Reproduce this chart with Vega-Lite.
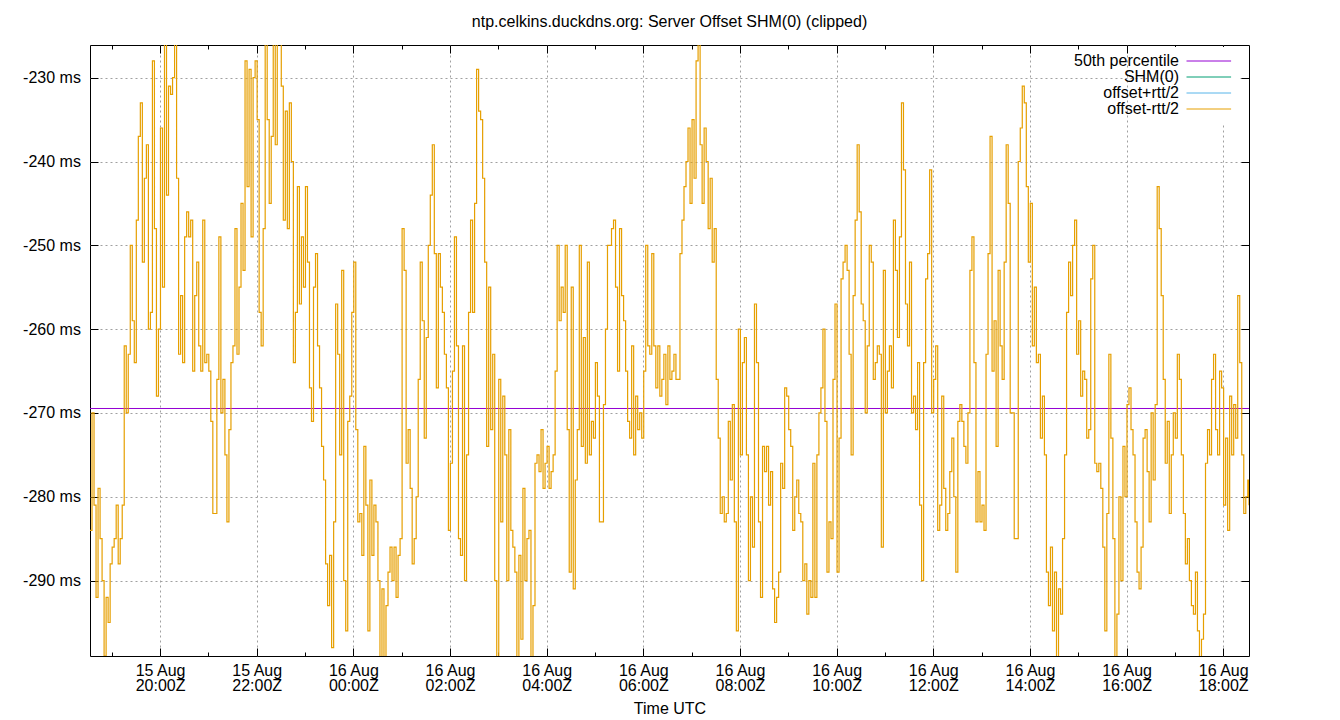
{
  "$schema": "https://vega.github.io/schema/vega-lite/v6.json",
  "width": 1159,
  "height": 611,
  "autosize": "none",
  "padding": {"left": 90, "top": 45, "right": 91, "bottom": 64},
  "title": {
    "text": "ntp.celkins.duckdns.org: Server Offset SHM(0) (clipped)",
    "fontSize": 16,
    "fontWeight": "normal",
    "color": "black",
    "baseline": "alphabetic",
    "offset": 2
  },
  "config": {
    "font": "Liberation Sans",
    "view": {"stroke": "black", "strokeWidth": 1},
    "axis": {
      "domain": false,
      "labelFontSize": 16,
      "labelColor": "black",
      "tickColor": "black",
      "tickWidth": 1,
      "gridColor": "#a0a0a0",
      "gridDash": [2, 3],
      "gridWidth": 1,
      "titleFontSize": 16,
      "titleFontWeight": "normal",
      "titleColor": "black"
    }
  },
  "datasets": {
    "offset": [
      {"t":"2024-08-15T18:33:00Z","v":-284},{"t":"2024-08-15T18:35:30Z","v":-270},
      {"t":"2024-08-15T18:38:00Z","v":-281},{"t":"2024-08-15T18:40:30Z","v":-292},
      {"t":"2024-08-15T18:43:00Z","v":-279},{"t":"2024-08-15T18:45:30Z","v":-285},
      {"t":"2024-08-15T18:48:00Z","v":-290},{"t":"2024-08-15T18:50:30Z","v":-299},
      {"t":"2024-08-15T18:53:00Z","v":-292},{"t":"2024-08-15T18:55:30Z","v":-295},
      {"t":"2024-08-15T18:58:00Z","v":-288},{"t":"2024-08-15T19:00:30Z","v":-286},
      {"t":"2024-08-15T19:03:00Z","v":-285},{"t":"2024-08-15T19:05:30Z","v":-281},
      {"t":"2024-08-15T19:08:00Z","v":-288},{"t":"2024-08-15T19:10:30Z","v":-285},
      {"t":"2024-08-15T19:13:00Z","v":-281},{"t":"2024-08-15T19:15:30Z","v":-262},
      {"t":"2024-08-15T19:18:00Z","v":-270},{"t":"2024-08-15T19:20:30Z","v":-263},
      {"t":"2024-08-15T19:23:00Z","v":-250},{"t":"2024-08-15T19:25:30Z","v":-259},
      {"t":"2024-08-15T19:28:00Z","v":-264},{"t":"2024-08-15T19:30:30Z","v":-247},
      {"t":"2024-08-15T19:33:00Z","v":-237},{"t":"2024-08-15T19:35:30Z","v":-233},
      {"t":"2024-08-15T19:38:00Z","v":-252},{"t":"2024-08-15T19:40:30Z","v":-242},
      {"t":"2024-08-15T19:43:00Z","v":-238},{"t":"2024-08-15T19:45:30Z","v":-260},
      {"t":"2024-08-15T19:48:00Z","v":-258},{"t":"2024-08-15T19:50:30Z","v":-228},
      {"t":"2024-08-15T19:53:00Z","v":-248},{"t":"2024-08-15T19:55:30Z","v":-268},
      {"t":"2024-08-15T19:58:00Z","v":-260},{"t":"2024-08-15T20:00:30Z","v":-236},
      {"t":"2024-08-15T20:03:00Z","v":-255},{"t":"2024-08-15T20:05:30Z","v":-224},
      {"t":"2024-08-15T20:08:00Z","v":-244},{"t":"2024-08-15T20:10:30Z","v":-231},
      {"t":"2024-08-15T20:13:00Z","v":-232},{"t":"2024-08-15T20:15:30Z","v":-230},
      {"t":"2024-08-15T20:18:00Z","v":-226},{"t":"2024-08-15T20:20:30Z","v":-242},
      {"t":"2024-08-15T20:23:00Z","v":-263},{"t":"2024-08-15T20:25:30Z","v":-256},
      {"t":"2024-08-15T20:28:00Z","v":-264},{"t":"2024-08-15T20:30:30Z","v":-249},
      {"t":"2024-08-15T20:33:00Z","v":-246},{"t":"2024-08-15T20:35:30Z","v":-249},
      {"t":"2024-08-15T20:38:00Z","v":-247},{"t":"2024-08-15T20:40:30Z","v":-265},
      {"t":"2024-08-15T20:43:00Z","v":-256},{"t":"2024-08-15T20:45:30Z","v":-252},
      {"t":"2024-08-15T20:48:00Z","v":-262},{"t":"2024-08-15T20:50:30Z","v":-265},
      {"t":"2024-08-15T20:53:00Z","v":-247},{"t":"2024-08-15T20:55:30Z","v":-264},
      {"t":"2024-08-15T20:58:00Z","v":-263},{"t":"2024-08-15T21:00:30Z","v":-265},
      {"t":"2024-08-15T21:03:00Z","v":-271},{"t":"2024-08-15T21:05:30Z","v":-282},
      {"t":"2024-08-15T21:08:00Z","v":-282},{"t":"2024-08-15T21:10:30Z","v":-266},
      {"t":"2024-08-15T21:13:00Z","v":-249},{"t":"2024-08-15T21:15:30Z","v":-270},
      {"t":"2024-08-15T21:18:00Z","v":-266},{"t":"2024-08-15T21:20:30Z","v":-275},
      {"t":"2024-08-15T21:23:00Z","v":-283},{"t":"2024-08-15T21:25:30Z","v":-272},
      {"t":"2024-08-15T21:28:00Z","v":-264},{"t":"2024-08-15T21:30:30Z","v":-262},
      {"t":"2024-08-15T21:33:00Z","v":-248},{"t":"2024-08-15T21:35:30Z","v":-263},
      {"t":"2024-08-15T21:38:00Z","v":-255},{"t":"2024-08-15T21:40:30Z","v":-245},
      {"t":"2024-08-15T21:43:00Z","v":-253},{"t":"2024-08-15T21:45:30Z","v":-228},
      {"t":"2024-08-15T21:48:00Z","v":-243},{"t":"2024-08-15T21:50:30Z","v":-229},
      {"t":"2024-08-15T21:53:00Z","v":-249},{"t":"2024-08-15T21:55:30Z","v":-230},
      {"t":"2024-08-15T21:58:00Z","v":-228},{"t":"2024-08-15T22:00:30Z","v":-235},
      {"t":"2024-08-15T22:03:00Z","v":-258},{"t":"2024-08-15T22:05:30Z","v":-262},
      {"t":"2024-08-15T22:08:00Z","v":-248},{"t":"2024-08-15T22:10:30Z","v":-226},
      {"t":"2024-08-15T22:13:00Z","v":-235},{"t":"2024-08-15T22:15:30Z","v":-245},
      {"t":"2024-08-15T22:18:00Z","v":-237},{"t":"2024-08-15T22:20:30Z","v":-226},
      {"t":"2024-08-15T22:23:00Z","v":-238},{"t":"2024-08-15T22:25:30Z","v":-224},
      {"t":"2024-08-15T22:28:00Z","v":-226},{"t":"2024-08-15T22:30:30Z","v":-231},
      {"t":"2024-08-15T22:33:00Z","v":-247},{"t":"2024-08-15T22:35:30Z","v":-234},
      {"t":"2024-08-15T22:38:00Z","v":-248},{"t":"2024-08-15T22:40:30Z","v":-233},
      {"t":"2024-08-15T22:43:00Z","v":-240},{"t":"2024-08-15T22:45:30Z","v":-264},
      {"t":"2024-08-15T22:48:00Z","v":-258},{"t":"2024-08-15T22:50:30Z","v":-243},
      {"t":"2024-08-15T22:53:00Z","v":-257},{"t":"2024-08-15T22:55:30Z","v":-249},
      {"t":"2024-08-15T22:58:00Z","v":-255},{"t":"2024-08-15T23:00:30Z","v":-243},
      {"t":"2024-08-15T23:03:00Z","v":-252},{"t":"2024-08-15T23:05:30Z","v":-267},
      {"t":"2024-08-15T23:08:00Z","v":-271},{"t":"2024-08-15T23:10:30Z","v":-255},
      {"t":"2024-08-15T23:13:00Z","v":-251},{"t":"2024-08-15T23:15:30Z","v":-262},
      {"t":"2024-08-15T23:18:00Z","v":-267},{"t":"2024-08-15T23:20:30Z","v":-274},
      {"t":"2024-08-15T23:23:00Z","v":-278},{"t":"2024-08-15T23:25:30Z","v":-288},
      {"t":"2024-08-15T23:28:00Z","v":-293},{"t":"2024-08-15T23:30:30Z","v":-287},
      {"t":"2024-08-15T23:33:00Z","v":-298},{"t":"2024-08-15T23:35:30Z","v":-283},
      {"t":"2024-08-15T23:38:00Z","v":-257},{"t":"2024-08-15T23:40:30Z","v":-263},
      {"t":"2024-08-15T23:43:00Z","v":-275},{"t":"2024-08-15T23:45:30Z","v":-253},
      {"t":"2024-08-15T23:48:00Z","v":-290},{"t":"2024-08-15T23:50:30Z","v":-296},
      {"t":"2024-08-15T23:53:00Z","v":-271},{"t":"2024-08-15T23:55:30Z","v":-268},
      {"t":"2024-08-15T23:58:00Z","v":-258},{"t":"2024-08-16T00:00:30Z","v":-252},
      {"t":"2024-08-16T00:03:00Z","v":-272},{"t":"2024-08-16T00:05:30Z","v":-283},
      {"t":"2024-08-16T00:08:00Z","v":-282},{"t":"2024-08-16T00:10:30Z","v":-287},
      {"t":"2024-08-16T00:13:00Z","v":-274},{"t":"2024-08-16T00:15:30Z","v":-281},
      {"t":"2024-08-16T00:18:00Z","v":-296},{"t":"2024-08-16T00:20:30Z","v":-278},
      {"t":"2024-08-16T00:23:00Z","v":-287},{"t":"2024-08-16T00:25:30Z","v":-281},
      {"t":"2024-08-16T00:28:00Z","v":-283},{"t":"2024-08-16T00:30:30Z","v":-290},
      {"t":"2024-08-16T00:33:00Z","v":-301},{"t":"2024-08-16T00:35:30Z","v":-291},
      {"t":"2024-08-16T00:38:00Z","v":-301},{"t":"2024-08-16T00:40:30Z","v":-293},
      {"t":"2024-08-16T00:43:00Z","v":-289},{"t":"2024-08-16T00:45:30Z","v":-286},
      {"t":"2024-08-16T00:48:00Z","v":-290},{"t":"2024-08-16T00:50:30Z","v":-286},
      {"t":"2024-08-16T00:53:00Z","v":-292},{"t":"2024-08-16T00:55:30Z","v":-287},
      {"t":"2024-08-16T00:58:00Z","v":-285},{"t":"2024-08-16T01:00:30Z","v":-248},
      {"t":"2024-08-16T01:03:00Z","v":-253},{"t":"2024-08-16T01:05:30Z","v":-276},
      {"t":"2024-08-16T01:08:00Z","v":-272},{"t":"2024-08-16T01:10:30Z","v":-279},
      {"t":"2024-08-16T01:13:00Z","v":-288},{"t":"2024-08-16T01:15:30Z","v":-285},
      {"t":"2024-08-16T01:18:00Z","v":-280},{"t":"2024-08-16T01:20:30Z","v":-266},
      {"t":"2024-08-16T01:23:00Z","v":-252},{"t":"2024-08-16T01:25:30Z","v":-259},
      {"t":"2024-08-16T01:28:00Z","v":-273},{"t":"2024-08-16T01:30:30Z","v":-261},
      {"t":"2024-08-16T01:33:00Z","v":-250},{"t":"2024-08-16T01:35:30Z","v":-244},
      {"t":"2024-08-16T01:38:00Z","v":-238},{"t":"2024-08-16T01:40:30Z","v":-251},
      {"t":"2024-08-16T01:43:00Z","v":-267},{"t":"2024-08-16T01:45:30Z","v":-251},
      {"t":"2024-08-16T01:48:00Z","v":-255},{"t":"2024-08-16T01:50:30Z","v":-258},
      {"t":"2024-08-16T01:53:00Z","v":-263},{"t":"2024-08-16T01:55:30Z","v":-267},
      {"t":"2024-08-16T01:58:00Z","v":-284},{"t":"2024-08-16T02:00:30Z","v":-276},
      {"t":"2024-08-16T02:03:00Z","v":-265},{"t":"2024-08-16T02:05:30Z","v":-249},
      {"t":"2024-08-16T02:08:00Z","v":-262},{"t":"2024-08-16T02:10:30Z","v":-285},
      {"t":"2024-08-16T02:13:00Z","v":-287},{"t":"2024-08-16T02:15:30Z","v":-262},
      {"t":"2024-08-16T02:18:00Z","v":-290},{"t":"2024-08-16T02:20:30Z","v":-275},
      {"t":"2024-08-16T02:23:00Z","v":-258},{"t":"2024-08-16T02:25:30Z","v":-247},
      {"t":"2024-08-16T02:28:00Z","v":-258},{"t":"2024-08-16T02:30:30Z","v":-245},
      {"t":"2024-08-16T02:33:00Z","v":-229},{"t":"2024-08-16T02:35:30Z","v":-234},
      {"t":"2024-08-16T02:38:00Z","v":-235},{"t":"2024-08-16T02:40:30Z","v":-242},
      {"t":"2024-08-16T02:43:00Z","v":-252},{"t":"2024-08-16T02:45:30Z","v":-274},
      {"t":"2024-08-16T02:48:00Z","v":-255},{"t":"2024-08-16T02:50:30Z","v":-272},
      {"t":"2024-08-16T02:53:00Z","v":-263},{"t":"2024-08-16T02:55:30Z","v":-290},
      {"t":"2024-08-16T02:58:00Z","v":-301},{"t":"2024-08-16T03:00:30Z","v":-266},
      {"t":"2024-08-16T03:03:00Z","v":-283},{"t":"2024-08-16T03:05:30Z","v":-268},
      {"t":"2024-08-16T03:08:00Z","v":-275},{"t":"2024-08-16T03:10:30Z","v":-290},
      {"t":"2024-08-16T03:13:00Z","v":-272},{"t":"2024-08-16T03:15:30Z","v":-284},
      {"t":"2024-08-16T03:18:00Z","v":-286},{"t":"2024-08-16T03:20:30Z","v":-289},
      {"t":"2024-08-16T03:23:00Z","v":-301},{"t":"2024-08-16T03:25:30Z","v":-287},
      {"t":"2024-08-16T03:28:00Z","v":-297},{"t":"2024-08-16T03:30:30Z","v":-279},
      {"t":"2024-08-16T03:33:00Z","v":-290},{"t":"2024-08-16T03:35:30Z","v":-285},
      {"t":"2024-08-16T03:38:00Z","v":-284},{"t":"2024-08-16T03:40:30Z","v":-301},
      {"t":"2024-08-16T03:43:00Z","v":-293},{"t":"2024-08-16T03:45:30Z","v":-276},
      {"t":"2024-08-16T03:48:00Z","v":-275},{"t":"2024-08-16T03:50:30Z","v":-277},
      {"t":"2024-08-16T03:53:00Z","v":-272},{"t":"2024-08-16T03:55:30Z","v":-279},
      {"t":"2024-08-16T03:58:00Z","v":-276},{"t":"2024-08-16T04:00:30Z","v":-274},
      {"t":"2024-08-16T04:03:00Z","v":-279},{"t":"2024-08-16T04:05:30Z","v":-277},
      {"t":"2024-08-16T04:08:00Z","v":-275},{"t":"2024-08-16T04:10:30Z","v":-265},
      {"t":"2024-08-16T04:13:00Z","v":-250},{"t":"2024-08-16T04:15:30Z","v":-259},
      {"t":"2024-08-16T04:18:00Z","v":-255},{"t":"2024-08-16T04:20:30Z","v":-258},
      {"t":"2024-08-16T04:23:00Z","v":-250},{"t":"2024-08-16T04:25:30Z","v":-272},
      {"t":"2024-08-16T04:28:00Z","v":-289},{"t":"2024-08-16T04:30:30Z","v":-255},
      {"t":"2024-08-16T04:33:00Z","v":-291},{"t":"2024-08-16T04:35:30Z","v":-278},
      {"t":"2024-08-16T04:38:00Z","v":-272},{"t":"2024-08-16T04:40:30Z","v":-250},
      {"t":"2024-08-16T04:43:00Z","v":-274},{"t":"2024-08-16T04:45:30Z","v":-261},
      {"t":"2024-08-16T04:48:00Z","v":-276},{"t":"2024-08-16T04:50:30Z","v":-252},
      {"t":"2024-08-16T04:53:00Z","v":-275},{"t":"2024-08-16T04:55:30Z","v":-271},
      {"t":"2024-08-16T04:58:00Z","v":-273},{"t":"2024-08-16T05:00:30Z","v":-264},
      {"t":"2024-08-16T05:03:00Z","v":-268},{"t":"2024-08-16T05:05:30Z","v":-283},
      {"t":"2024-08-16T05:08:00Z","v":-283},{"t":"2024-08-16T05:10:30Z","v":-269},
      {"t":"2024-08-16T05:13:00Z","v":-260},{"t":"2024-08-16T05:15:30Z","v":-250},
      {"t":"2024-08-16T05:18:00Z","v":-250},{"t":"2024-08-16T05:20:30Z","v":-248},
      {"t":"2024-08-16T05:23:00Z","v":-247},{"t":"2024-08-16T05:25:30Z","v":-255},
      {"t":"2024-08-16T05:28:00Z","v":-265},{"t":"2024-08-16T05:30:30Z","v":-248},
      {"t":"2024-08-16T05:33:00Z","v":-256},{"t":"2024-08-16T05:35:30Z","v":-259},
      {"t":"2024-08-16T05:38:00Z","v":-265},{"t":"2024-08-16T05:40:30Z","v":-271},
      {"t":"2024-08-16T05:43:00Z","v":-273},{"t":"2024-08-16T05:45:30Z","v":-262},
      {"t":"2024-08-16T05:48:00Z","v":-275},{"t":"2024-08-16T05:50:30Z","v":-268},
      {"t":"2024-08-16T05:53:00Z","v":-272},{"t":"2024-08-16T05:55:30Z","v":-270},
      {"t":"2024-08-16T05:58:00Z","v":-273},{"t":"2024-08-16T06:00:30Z","v":-265},
      {"t":"2024-08-16T06:03:00Z","v":-250},{"t":"2024-08-16T06:05:30Z","v":-262},
      {"t":"2024-08-16T06:08:00Z","v":-263},{"t":"2024-08-16T06:10:30Z","v":-251},
      {"t":"2024-08-16T06:13:00Z","v":-262},{"t":"2024-08-16T06:15:30Z","v":-267},
      {"t":"2024-08-16T06:18:00Z","v":-262},{"t":"2024-08-16T06:20:30Z","v":-268},
      {"t":"2024-08-16T06:23:00Z","v":-266},{"t":"2024-08-16T06:25:30Z","v":-263},
      {"t":"2024-08-16T06:28:00Z","v":-269},{"t":"2024-08-16T06:30:30Z","v":-262},
      {"t":"2024-08-16T06:33:00Z","v":-266},{"t":"2024-08-16T06:35:30Z","v":-265},
      {"t":"2024-08-16T06:38:00Z","v":-263},{"t":"2024-08-16T06:40:30Z","v":-266},
      {"t":"2024-08-16T06:43:00Z","v":-266},{"t":"2024-08-16T06:45:30Z","v":-251},
      {"t":"2024-08-16T06:48:00Z","v":-247},{"t":"2024-08-16T06:50:30Z","v":-243},
      {"t":"2024-08-16T06:53:00Z","v":-240},{"t":"2024-08-16T06:55:30Z","v":-236},
      {"t":"2024-08-16T06:58:00Z","v":-245},{"t":"2024-08-16T07:00:30Z","v":-235},
      {"t":"2024-08-16T07:03:00Z","v":-242},{"t":"2024-08-16T07:05:30Z","v":-228},
      {"t":"2024-08-16T07:08:00Z","v":-224},{"t":"2024-08-16T07:10:30Z","v":-238},
      {"t":"2024-08-16T07:13:00Z","v":-245},{"t":"2024-08-16T07:15:30Z","v":-236},
      {"t":"2024-08-16T07:18:00Z","v":-240},{"t":"2024-08-16T07:20:30Z","v":-248},
      {"t":"2024-08-16T07:23:00Z","v":-242},{"t":"2024-08-16T07:25:30Z","v":-252},
      {"t":"2024-08-16T07:28:00Z","v":-248},{"t":"2024-08-16T07:30:30Z","v":-266},
      {"t":"2024-08-16T07:33:00Z","v":-273},{"t":"2024-08-16T07:35:30Z","v":-282},
      {"t":"2024-08-16T07:38:00Z","v":-280},{"t":"2024-08-16T07:40:30Z","v":-283},
      {"t":"2024-08-16T07:43:00Z","v":-282},{"t":"2024-08-16T07:45:30Z","v":-271},
      {"t":"2024-08-16T07:48:00Z","v":-278},{"t":"2024-08-16T07:50:30Z","v":-269},
      {"t":"2024-08-16T07:53:00Z","v":-283},{"t":"2024-08-16T07:55:30Z","v":-296},
      {"t":"2024-08-16T07:58:00Z","v":-260},{"t":"2024-08-16T08:00:30Z","v":-275},
      {"t":"2024-08-16T08:03:00Z","v":-264},{"t":"2024-08-16T08:05:30Z","v":-261},
      {"t":"2024-08-16T08:08:00Z","v":-275},{"t":"2024-08-16T08:10:30Z","v":-290},
      {"t":"2024-08-16T08:13:00Z","v":-280},{"t":"2024-08-16T08:15:30Z","v":-286},
      {"t":"2024-08-16T08:18:00Z","v":-257},{"t":"2024-08-16T08:20:30Z","v":-264},
      {"t":"2024-08-16T08:23:00Z","v":-283},{"t":"2024-08-16T08:25:30Z","v":-292},
      {"t":"2024-08-16T08:28:00Z","v":-274},{"t":"2024-08-16T08:30:30Z","v":-277},
      {"t":"2024-08-16T08:33:00Z","v":-274},{"t":"2024-08-16T08:35:30Z","v":-281},
      {"t":"2024-08-16T08:38:00Z","v":-277},{"t":"2024-08-16T08:40:30Z","v":-291},
      {"t":"2024-08-16T08:43:00Z","v":-295},{"t":"2024-08-16T08:45:30Z","v":-292},
      {"t":"2024-08-16T08:48:00Z","v":-289},{"t":"2024-08-16T08:50:30Z","v":-276},
      {"t":"2024-08-16T08:53:00Z","v":-279},{"t":"2024-08-16T08:55:30Z","v":-267},
      {"t":"2024-08-16T08:58:00Z","v":-268},{"t":"2024-08-16T09:00:30Z","v":-272},
      {"t":"2024-08-16T09:03:00Z","v":-274},{"t":"2024-08-16T09:05:30Z","v":-284},
      {"t":"2024-08-16T09:08:00Z","v":-280},{"t":"2024-08-16T09:10:30Z","v":-278},
      {"t":"2024-08-16T09:13:00Z","v":-282},{"t":"2024-08-16T09:15:30Z","v":-283},
      {"t":"2024-08-16T09:18:00Z","v":-290},{"t":"2024-08-16T09:20:30Z","v":-288},
      {"t":"2024-08-16T09:23:00Z","v":-294},{"t":"2024-08-16T09:25:30Z","v":-290},
      {"t":"2024-08-16T09:28:00Z","v":-292},{"t":"2024-08-16T09:30:30Z","v":-276},
      {"t":"2024-08-16T09:33:00Z","v":-292},{"t":"2024-08-16T09:35:30Z","v":-275},
      {"t":"2024-08-16T09:38:00Z","v":-270},{"t":"2024-08-16T09:40:30Z","v":-267},
      {"t":"2024-08-16T09:43:00Z","v":-260},{"t":"2024-08-16T09:45:30Z","v":-271},
      {"t":"2024-08-16T09:48:00Z","v":-289},{"t":"2024-08-16T09:50:30Z","v":-283},
      {"t":"2024-08-16T09:53:00Z","v":-285},{"t":"2024-08-16T09:55:30Z","v":-266},
      {"t":"2024-08-16T09:58:00Z","v":-257},{"t":"2024-08-16T10:00:30Z","v":-289},
      {"t":"2024-08-16T10:03:00Z","v":-273},{"t":"2024-08-16T10:05:30Z","v":-254},
      {"t":"2024-08-16T10:08:00Z","v":-252},{"t":"2024-08-16T10:10:30Z","v":-250},
      {"t":"2024-08-16T10:13:00Z","v":-253},{"t":"2024-08-16T10:15:30Z","v":-263},
      {"t":"2024-08-16T10:18:00Z","v":-275},{"t":"2024-08-16T10:20:30Z","v":-256},
      {"t":"2024-08-16T10:23:00Z","v":-247},{"t":"2024-08-16T10:25:30Z","v":-238},
      {"t":"2024-08-16T10:28:00Z","v":-246},{"t":"2024-08-16T10:30:30Z","v":-257},
      {"t":"2024-08-16T10:33:00Z","v":-259},{"t":"2024-08-16T10:35:30Z","v":-270},
      {"t":"2024-08-16T10:38:00Z","v":-262},{"t":"2024-08-16T10:40:30Z","v":-250},
      {"t":"2024-08-16T10:43:00Z","v":-252},{"t":"2024-08-16T10:45:30Z","v":-266},
      {"t":"2024-08-16T10:48:00Z","v":-264},{"t":"2024-08-16T10:50:30Z","v":-262},
      {"t":"2024-08-16T10:53:00Z","v":-263},{"t":"2024-08-16T10:55:30Z","v":-286},
      {"t":"2024-08-16T10:58:00Z","v":-253},{"t":"2024-08-16T11:00:30Z","v":-270},
      {"t":"2024-08-16T11:03:00Z","v":-265},{"t":"2024-08-16T11:05:30Z","v":-262},
      {"t":"2024-08-16T11:08:00Z","v":-267},{"t":"2024-08-16T11:10:30Z","v":-247},
      {"t":"2024-08-16T11:13:00Z","v":-253},{"t":"2024-08-16T11:15:30Z","v":-261},
      {"t":"2024-08-16T11:18:00Z","v":-249},{"t":"2024-08-16T11:20:30Z","v":-233},
      {"t":"2024-08-16T11:23:00Z","v":-241},{"t":"2024-08-16T11:25:30Z","v":-257},
      {"t":"2024-08-16T11:28:00Z","v":-262},{"t":"2024-08-16T11:30:30Z","v":-252},
      {"t":"2024-08-16T11:33:00Z","v":-270},{"t":"2024-08-16T11:35:30Z","v":-268},
      {"t":"2024-08-16T11:38:00Z","v":-272},{"t":"2024-08-16T11:40:30Z","v":-264},
      {"t":"2024-08-16T11:43:00Z","v":-281},{"t":"2024-08-16T11:45:30Z","v":-290},
      {"t":"2024-08-16T11:48:00Z","v":-264},{"t":"2024-08-16T11:50:30Z","v":-254},
      {"t":"2024-08-16T11:53:00Z","v":-251},{"t":"2024-08-16T11:55:30Z","v":-241},
      {"t":"2024-08-16T11:58:00Z","v":-270},{"t":"2024-08-16T12:00:30Z","v":-266},
      {"t":"2024-08-16T12:03:00Z","v":-262},{"t":"2024-08-16T12:05:30Z","v":-284},
      {"t":"2024-08-16T12:08:00Z","v":-281},{"t":"2024-08-16T12:10:30Z","v":-268},
      {"t":"2024-08-16T12:13:00Z","v":-279},{"t":"2024-08-16T12:15:30Z","v":-284},
      {"t":"2024-08-16T12:18:00Z","v":-282},{"t":"2024-08-16T12:20:30Z","v":-277},
      {"t":"2024-08-16T12:23:00Z","v":-273},{"t":"2024-08-16T12:25:30Z","v":-280},
      {"t":"2024-08-16T12:28:00Z","v":-289},{"t":"2024-08-16T12:30:30Z","v":-271},
      {"t":"2024-08-16T12:33:00Z","v":-269},{"t":"2024-08-16T12:35:30Z","v":-271},
      {"t":"2024-08-16T12:38:00Z","v":-274},{"t":"2024-08-16T12:40:30Z","v":-276},
      {"t":"2024-08-16T12:43:00Z","v":-270},{"t":"2024-08-16T12:45:30Z","v":-253},
      {"t":"2024-08-16T12:48:00Z","v":-249},{"t":"2024-08-16T12:50:30Z","v":-264},
      {"t":"2024-08-16T12:53:00Z","v":-283},{"t":"2024-08-16T12:55:30Z","v":-277},
      {"t":"2024-08-16T12:58:00Z","v":-283},{"t":"2024-08-16T13:00:30Z","v":-281},
      {"t":"2024-08-16T13:03:00Z","v":-284},{"t":"2024-08-16T13:05:30Z","v":-263},
      {"t":"2024-08-16T13:08:00Z","v":-251},{"t":"2024-08-16T13:10:30Z","v":-237},
      {"t":"2024-08-16T13:13:00Z","v":-265},{"t":"2024-08-16T13:15:30Z","v":-259},
      {"t":"2024-08-16T13:18:00Z","v":-274},{"t":"2024-08-16T13:20:30Z","v":-253},
      {"t":"2024-08-16T13:23:00Z","v":-262},{"t":"2024-08-16T13:25:30Z","v":-266},
      {"t":"2024-08-16T13:28:00Z","v":-252},{"t":"2024-08-16T13:30:30Z","v":-238},
      {"t":"2024-08-16T13:33:00Z","v":-245},{"t":"2024-08-16T13:35:30Z","v":-270},
      {"t":"2024-08-16T13:38:00Z","v":-270},{"t":"2024-08-16T13:40:30Z","v":-285},
      {"t":"2024-08-16T13:43:00Z","v":-285},{"t":"2024-08-16T13:45:30Z","v":-240},
      {"t":"2024-08-16T13:48:00Z","v":-236},{"t":"2024-08-16T13:50:30Z","v":-231},
      {"t":"2024-08-16T13:53:00Z","v":-233},{"t":"2024-08-16T13:55:30Z","v":-243},
      {"t":"2024-08-16T13:58:00Z","v":-252},{"t":"2024-08-16T14:00:30Z","v":-245},
      {"t":"2024-08-16T14:03:00Z","v":-262},{"t":"2024-08-16T14:05:30Z","v":-255},
      {"t":"2024-08-16T14:08:00Z","v":-264},{"t":"2024-08-16T14:10:30Z","v":-263},
      {"t":"2024-08-16T14:13:00Z","v":-273},{"t":"2024-08-16T14:15:30Z","v":-268},
      {"t":"2024-08-16T14:18:00Z","v":-275},{"t":"2024-08-16T14:20:30Z","v":-289},
      {"t":"2024-08-16T14:23:00Z","v":-293},{"t":"2024-08-16T14:25:30Z","v":-286},
      {"t":"2024-08-16T14:28:00Z","v":-296},{"t":"2024-08-16T14:30:30Z","v":-289},
      {"t":"2024-08-16T14:33:00Z","v":-301},{"t":"2024-08-16T14:35:30Z","v":-291},
      {"t":"2024-08-16T14:38:00Z","v":-294},{"t":"2024-08-16T14:40:30Z","v":-285},
      {"t":"2024-08-16T14:43:00Z","v":-275},{"t":"2024-08-16T14:45:30Z","v":-258},
      {"t":"2024-08-16T14:48:00Z","v":-252},{"t":"2024-08-16T14:50:30Z","v":-256},
      {"t":"2024-08-16T14:53:00Z","v":-250},{"t":"2024-08-16T14:55:30Z","v":-247},
      {"t":"2024-08-16T14:58:00Z","v":-263},{"t":"2024-08-16T15:00:30Z","v":-259},
      {"t":"2024-08-16T15:03:00Z","v":-268},{"t":"2024-08-16T15:05:30Z","v":-265},
      {"t":"2024-08-16T15:08:00Z","v":-266},{"t":"2024-08-16T15:10:30Z","v":-273},
      {"t":"2024-08-16T15:13:00Z","v":-272},{"t":"2024-08-16T15:15:30Z","v":-254},
      {"t":"2024-08-16T15:18:00Z","v":-250},{"t":"2024-08-16T15:20:30Z","v":-276},
      {"t":"2024-08-16T15:23:00Z","v":-277},{"t":"2024-08-16T15:25:30Z","v":-276},
      {"t":"2024-08-16T15:28:00Z","v":-279},{"t":"2024-08-16T15:30:30Z","v":-286},
      {"t":"2024-08-16T15:33:00Z","v":-296},{"t":"2024-08-16T15:35:30Z","v":-282},
      {"t":"2024-08-16T15:38:00Z","v":-263},{"t":"2024-08-16T15:40:30Z","v":-273},
      {"t":"2024-08-16T15:43:00Z","v":-285},{"t":"2024-08-16T15:45:30Z","v":-301},
      {"t":"2024-08-16T15:48:00Z","v":-294},{"t":"2024-08-16T15:50:30Z","v":-280},
      {"t":"2024-08-16T15:53:00Z","v":-290},{"t":"2024-08-16T15:55:30Z","v":-274},
      {"t":"2024-08-16T15:58:00Z","v":-280},{"t":"2024-08-16T16:00:30Z","v":-269},
      {"t":"2024-08-16T16:03:00Z","v":-267},{"t":"2024-08-16T16:05:30Z","v":-272},
      {"t":"2024-08-16T16:08:00Z","v":-275},{"t":"2024-08-16T16:10:30Z","v":-283},
      {"t":"2024-08-16T16:13:00Z","v":-289},{"t":"2024-08-16T16:15:30Z","v":-291},
      {"t":"2024-08-16T16:18:00Z","v":-286},{"t":"2024-08-16T16:20:30Z","v":-273},
      {"t":"2024-08-16T16:23:00Z","v":-272},{"t":"2024-08-16T16:25:30Z","v":-277},
      {"t":"2024-08-16T16:28:00Z","v":-283},{"t":"2024-08-16T16:30:30Z","v":-270},
      {"t":"2024-08-16T16:33:00Z","v":-278},{"t":"2024-08-16T16:35:30Z","v":-269},
      {"t":"2024-08-16T16:38:00Z","v":-243},{"t":"2024-08-16T16:40:30Z","v":-248},
      {"t":"2024-08-16T16:43:00Z","v":-256},{"t":"2024-08-16T16:45:30Z","v":-266},
      {"t":"2024-08-16T16:48:00Z","v":-276},{"t":"2024-08-16T16:50:30Z","v":-271},
      {"t":"2024-08-16T16:53:00Z","v":-282},{"t":"2024-08-16T16:55:30Z","v":-275},
      {"t":"2024-08-16T16:58:00Z","v":-270},{"t":"2024-08-16T17:00:30Z","v":-273},
      {"t":"2024-08-16T17:03:00Z","v":-263},{"t":"2024-08-16T17:05:30Z","v":-266},
      {"t":"2024-08-16T17:08:00Z","v":-275},{"t":"2024-08-16T17:10:30Z","v":-282},
      {"t":"2024-08-16T17:13:00Z","v":-288},{"t":"2024-08-16T17:15:30Z","v":-285},
      {"t":"2024-08-16T17:18:00Z","v":-290},{"t":"2024-08-16T17:20:30Z","v":-293},
      {"t":"2024-08-16T17:23:00Z","v":-294},{"t":"2024-08-16T17:25:30Z","v":-289},
      {"t":"2024-08-16T17:28:00Z","v":-296},{"t":"2024-08-16T17:30:30Z","v":-301},
      {"t":"2024-08-16T17:33:00Z","v":-297},{"t":"2024-08-16T17:35:30Z","v":-294},
      {"t":"2024-08-16T17:38:00Z","v":-276},{"t":"2024-08-16T17:40:30Z","v":-272},
      {"t":"2024-08-16T17:43:00Z","v":-275},{"t":"2024-08-16T17:45:30Z","v":-266},
      {"t":"2024-08-16T17:48:00Z","v":-263},{"t":"2024-08-16T17:50:30Z","v":-272},
      {"t":"2024-08-16T17:53:00Z","v":-275},{"t":"2024-08-16T17:55:30Z","v":-265},
      {"t":"2024-08-16T17:58:00Z","v":-267},{"t":"2024-08-16T18:00:30Z","v":-281},
      {"t":"2024-08-16T18:03:00Z","v":-273},{"t":"2024-08-16T18:05:30Z","v":-284},
      {"t":"2024-08-16T18:08:00Z","v":-268},{"t":"2024-08-16T18:10:30Z","v":-275},
      {"t":"2024-08-16T18:13:00Z","v":-269},{"t":"2024-08-16T18:15:30Z","v":-273},
      {"t":"2024-08-16T18:18:00Z","v":-256},{"t":"2024-08-16T18:20:30Z","v":-264},
      {"t":"2024-08-16T18:23:00Z","v":-275},{"t":"2024-08-16T18:25:30Z","v":-282},
      {"t":"2024-08-16T18:28:00Z","v":-280},{"t":"2024-08-16T18:30:30Z","v":-278},
      {"t":"2024-08-16T18:32:00Z","v":-281}
    ]
  },
  "data": {"name": "offset"},
  "resolve": {"axis": {"x": "independent", "y": "independent"}},
  "layer": [
    {
      "data": {"values": [{"label": "50th percentile", "v": -269.47}]},
      "mark": {"type": "rule", "strokeWidth": 1},
      "encoding": {
        "y": {
          "field": "v",
          "type": "quantitative",
          "scale": {"domain": [-299, -226.1], "nice": false, "zero": false},
          "axis": null
        },
        "color": {
          "field": "label",
          "type": "nominal",
          "scale": {
            "domain": ["50th percentile", "SHM(0)", "offset+rtt/2", "offset-rtt/2"],
            "range": ["#9400d3", "#009e73", "#56b4e9", "#e69f00"]
          },
          "legend": {
            "title": null,
            "orient": "none",
            "legendX": 1082.5,
            "legendY": 2,
            "padding": 6,
            "fillColor": "white",
            "symbolType": "M0,0H44.6",
            "symbolSize": 4,
            "symbolStrokeWidth": 1,
            "labelAlign": "right",
            "labelOffset": -15.5,
            "labelFontSize": 16,
            "labelColor": "black",
            "rowPadding": -2
          }
        }
      }
    },
    {
      "mark": {"type": "line", "strokeWidth": 1.2, "clip": true, "interpolate": "step-after"},
      "encoding": {
        "x": {
          "field": "t",
          "type": "temporal",
          "scale": {"type": "utc", "nice": false, "domain": [1723746780000, 1723833120000]},
          "axis": {
            "orient": "bottom",
            "values": [1723752000000, 1723759200000, 1723766400000, 1723773600000, 1723780800000, 1723788000000, 1723795200000, 1723802400000, 1723809600000, 1723816800000, 1723824000000, 1723831200000],
            "labelExpr": "[utcFormat(datum.value, '%d %b'), utcFormat(datum.value, '%H:%MZ')]",
            "labelLineHeight": 15,
            "labelBaseline": "top",
            "labelPadding": 14,
            "labelOverlap": false,
            "labelFlush": false,
            "tickSize": -8,
            "grid": true,
            "title": "Time UTC",
            "titlePadding": 7
          }
        },
        "y": {
          "field": "v",
          "type": "quantitative",
          "scale": {"domain": [-299, -226.1], "nice": false, "zero": false},
          "axis": {
            "orient": "left",
            "values": [-290, -280, -270, -260, -250, -240, -230],
            "labelExpr": "datum.value + ' ms'",
            "labelPadding": 17.6,
            "tickSize": -8,
            "grid": true,
            "title": null
          }
        },
        "color": {
          "datum": "offset-rtt/2",
          "type": "nominal"
        }
      }
    },
    {
      "mark": {"type": "line", "strokeOpacity": 0, "clip": true},
      "encoding": {
        "x": {
          "field": "t",
          "type": "temporal",
          "scale": {"type": "utc", "nice": false, "domain": [1723746780000, 1723833120000]},
          "axis": {
            "orient": "top",
            "values": [1723752000000, 1723759200000, 1723766400000, 1723773600000, 1723780800000, 1723788000000, 1723795200000, 1723802400000, 1723809600000, 1723816800000, 1723824000000, 1723831200000],
            "labels": false,
            "grid": false,
            "tickSize": -8,
            "title": null
          }
        },
        "y": {
          "field": "v",
          "type": "quantitative",
          "scale": {"domain": [-299, -226.1], "nice": false, "zero": false},
          "axis": {
            "orient": "right",
            "values": [-290, -280, -270, -260, -250, -240, -230],
            "labels": false,
            "grid": false,
            "tickSize": -8,
            "title": null
          }
        }
      }
    },
    {
      "mark": {"type": "line", "strokeOpacity": 0, "clip": true},
      "encoding": {
        "x": {
          "field": "t",
          "type": "temporal",
          "scale": {"type": "utc", "nice": false, "domain": [1723746780000, 1723833120000]},
          "axis": {
            "orient": "bottom",
            "values": [1723748400000, 1723755600000, 1723762800000, 1723770000000, 1723777200000, 1723784400000, 1723791600000, 1723798800000, 1723806000000, 1723813200000, 1723820400000, 1723827600000],
            "labels": false,
            "grid": false,
            "tickSize": -4,
            "title": null
          }
        },
        "y": {"field": "v", "type": "quantitative", "scale": {"domain": [-299, -226.1], "nice": false, "zero": false}, "axis": null}
      }
    },
    {
      "mark": {"type": "line", "strokeOpacity": 0, "clip": true},
      "encoding": {
        "x": {
          "field": "t",
          "type": "temporal",
          "scale": {"type": "utc", "nice": false, "domain": [1723746780000, 1723833120000]},
          "axis": {
            "orient": "top",
            "values": [1723748400000, 1723755600000, 1723762800000, 1723770000000, 1723777200000, 1723784400000, 1723791600000, 1723798800000, 1723806000000, 1723813200000, 1723820400000, 1723827600000],
            "labels": false,
            "grid": false,
            "tickSize": -4,
            "title": null
          }
        },
        "y": {"field": "v", "type": "quantitative", "scale": {"domain": [-299, -226.1], "nice": false, "zero": false}, "axis": null}
      }
    }
  ]
}
